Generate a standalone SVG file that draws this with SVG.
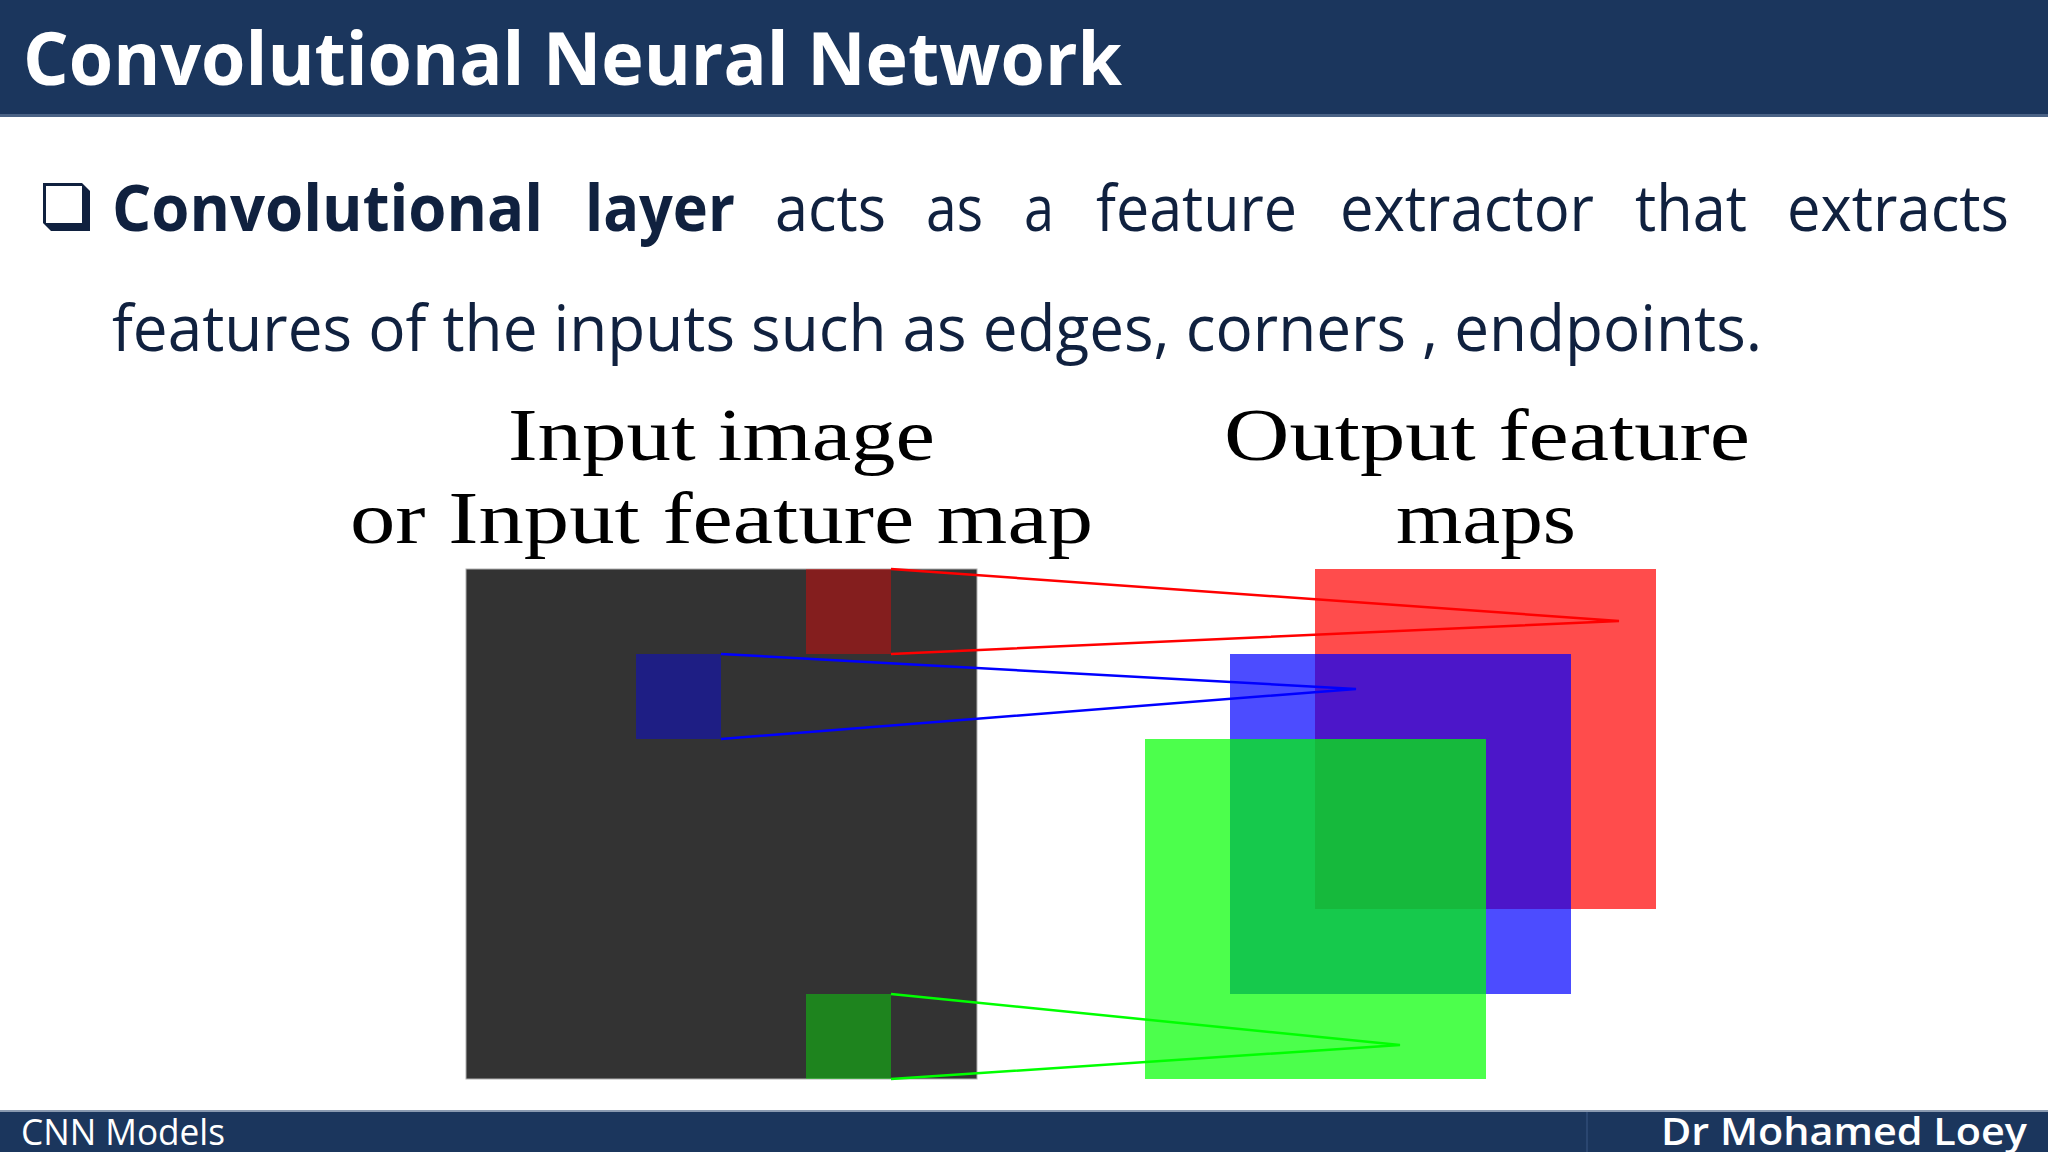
<svg xmlns="http://www.w3.org/2000/svg" width="2048" height="1152" viewBox="0 0 2048 1152">
<style>
.bar{fill:#1b365d}
.title{font-family:"Open Sans","Liberation Sans",sans-serif;font-weight:700;font-size:74px;fill:#ffffff}
.body{font-family:"Open Sans","Liberation Sans",sans-serif;font-size:64px;fill:#10213f}
.bold{font-weight:700}
.lab{font-family:"Liberation Serif","DejaVu Serif",serif;font-size:73px;fill:#000000}
.foot{font-family:"Open Sans","Liberation Sans",sans-serif;font-size:37px;fill:#ffffff}
.conn{fill:none;stroke-width:2.5;stroke-linejoin:miter}
</style>
<rect width="2048" height="1152" fill="#ffffff"/>
<g id="header">
<rect class="bar" x="0" y="0" width="2048" height="116"/>
<rect x="0" y="114" width="2048" height="3" fill="#4a6285"/>
<text class="title" x="23" y="85" textLength="1099" lengthAdjust="spacingAndGlyphs">Convolutional Neural Network</text>
</g>
<g id="bullet">
<polygon points="43,183 82,183 90,191 90,231 51,231 43,223" fill="#10213f"/>
<rect x="46" y="186" width="36" height="37" fill="#ffffff"/>
</g>
<g id="body-text">
<text class="body" y="231">
<tspan class="bold" x="112" textLength="431" lengthAdjust="spacingAndGlyphs">Convolutional</tspan>
<tspan class="bold" x="585" textLength="150" lengthAdjust="spacingAndGlyphs">layer</tspan>
<tspan x="775" textLength="111" lengthAdjust="spacingAndGlyphs">acts</tspan>
<tspan x="926" textLength="57" lengthAdjust="spacingAndGlyphs">as</tspan>
<tspan x="1024" textLength="30" lengthAdjust="spacingAndGlyphs">a</tspan>
<tspan x="1096" textLength="201" lengthAdjust="spacingAndGlyphs">feature</tspan>
<tspan x="1340" textLength="254" lengthAdjust="spacingAndGlyphs">extractor</tspan>
<tspan x="1635" textLength="112" lengthAdjust="spacingAndGlyphs">that</tspan>
<tspan x="1787" textLength="222" lengthAdjust="spacingAndGlyphs">extracts</tspan>
</text>
<text class="body" x="112" y="351" textLength="1650" lengthAdjust="spacingAndGlyphs">features of the inputs such as edges, corners , endpoints.</text>
</g>
<g id="input-label">
<text class="lab" x="508" y="460" textLength="427" lengthAdjust="spacingAndGlyphs">Input image</text>
<text class="lab" x="350" y="543" textLength="743" lengthAdjust="spacingAndGlyphs">or Input feature map</text>
</g>
<g id="output-label">
<text class="lab" x="1224" y="460" textLength="526" lengthAdjust="spacingAndGlyphs">Output feature</text>
<text class="lab" x="1396" y="543" textLength="180" lengthAdjust="spacingAndGlyphs">maps</text>
</g>
<g id="input-map">
<rect x="466" y="569" width="511" height="510" fill="#333333" stroke="#b0b0b0" stroke-width="1"/>
<rect x="806" y="569" width="85" height="85" fill="#ff0000" fill-opacity="0.4"/>
<rect x="636" y="654" width="85" height="85" fill="#0000ff" fill-opacity="0.4"/>
<rect x="806" y="994" width="85" height="85" fill="#00ff00" fill-opacity="0.4"/>
</g>
<g id="output-maps">
<rect id="out-red" x="1315" y="569" width="341" height="340" fill="#ff0000" fill-opacity="0.7"/>
<rect id="out-blue" x="1230" y="654" width="341" height="340" fill="#0000ff" fill-opacity="0.7"/>
<rect id="out-green" x="1145" y="739" width="341" height="340" fill="#00ff00" fill-opacity="0.7"/>
</g>
<g id="connectors">
<polyline class="conn" stroke="#ff0000" points="891,569 1619,621 891,654"/>
<polyline class="conn" stroke="#0000ff" points="721,654 1356,689 721,739"/>
<polyline class="conn" stroke="#00ff00" points="891,994 1400,1045 891,1079"/>
</g>
<g id="footer">
<rect class="bar" x="0" y="1111" width="2048" height="41"/>
<rect x="0" y="1110" width="2048" height="2" fill="#8a9ab0"/>
<rect x="1586" y="1112" width="2" height="40" fill="#2a4670"/>
<text class="foot" x="21" y="1145" textLength="204" lengthAdjust="spacingAndGlyphs">CNN Models</text>
<text class="foot" x="1661" y="1145" font-weight="600" textLength="366" lengthAdjust="spacingAndGlyphs">Dr Mohamed Loey</text>
</g>
</svg>
